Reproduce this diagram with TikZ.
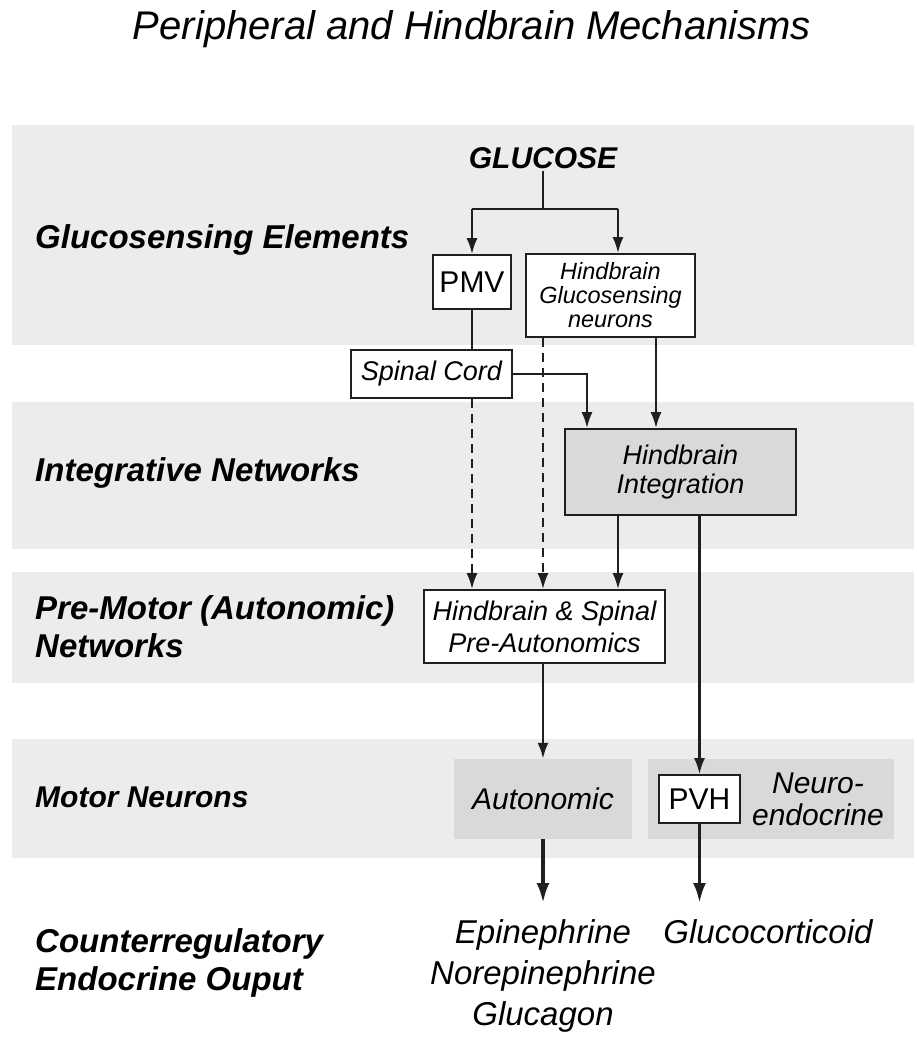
\documentclass[tikz,border=0pt]{standalone}
\usepackage{fontspec}
\setmainfont{Liberation Sans}
\usetikzlibrary{arrows.meta}
\definecolor{bandgray}{RGB}{236,236,236}
\definecolor{boxgray}{RGB}{217,217,217}
\newcommand\myfs[2]{\fontsize{#1pt}{#2pt}\selectfont}
\begin{document}
\begin{tikzpicture}[x=1pt,y=-1pt,
  conn/.style={line width=2.5pt, draw=black!88},
  arr/.style={conn, -{Latex[length=16pt,width=11pt]}},
  darr/.style={arr, dash pattern=on 9pt off 6pt},
  bigarr/.style={line width=3.5pt, draw=black!88, -{Latex[length=20pt,width=13pt]}},
  wbox/.style={draw=black!88, line width=1.6pt, fill=white, inner sep=0pt, align=center},
  gbox/.style={fill=boxgray, inner sep=0pt, align=center},
  lab/.style={anchor=west, inner sep=0pt, align=left, font=\myfs{33}{38}\bfseries\itshape},
  outtxt/.style={anchor=north, inner xsep=0pt, inner ysep=16pt, align=center, font=\myfs{33}{41}\itshape}]
\useasboundingbox (0,0) rectangle (917,1050);
% bands
\fill[bandgray] (12,125) rectangle (914,345);
\fill[bandgray] (12,402) rectangle (914,549);
\fill[bandgray] (12,572) rectangle (914,683);
\fill[bandgray] (12,739) rectangle (914,858);
% title
\node[font=\myfs{40}{44}\itshape, inner sep=0pt] (title) at (472,29) {Peripheral and Hindbrain Mechanisms};
% left labels
\node[lab] (l1) at (35,240) {Glucosensing Elements};
\node[lab] (l2) at (35,473) {Integrative Networks};
\node[lab] (l3) at (35,627) {Pre-Motor (Autonomic)\\Networks};
\node[lab, font=\myfs{30}{34}\bfseries\itshape] (l4) at (35,797) {Motor Neurons};
\node[lab] (l5) at (35,963) {Counterregulatory\\Endocrine Ouput};
% nodes
\node[font=\myfs{30}{32}\bfseries\itshape, inner sep=2pt] (glucose) at (543,158) {GLUCOSE};
\node[wbox, minimum width=78pt, minimum height=54pt, font=\myfs{30}{32}] (pmv) at (472,282) {PMV};
\node[wbox, minimum width=169pt, minimum height=83pt, font=\myfs{23.5}{24}\itshape] (hgs) at (610.5,295.5) {Hindbrain\\Glucosensing\\neurons};
\node[wbox, minimum width=161pt, minimum height=48pt, font=\myfs{27}{30}\itshape] (spinal) at (431.5,374) {Spinal Cord};
\node[wbox, fill=boxgray, minimum width=231pt, minimum height=86pt, font=\myfs{27}{28.5}\itshape] (hint) at (680.5,472) {Hindbrain\\Integration};
\node[wbox, minimum width=241pt, minimum height=73pt, font=\myfs{27}{32}\itshape] (preaut) at (544.5,626.5) {Hindbrain \& Spinal\\Pre-Autonomics};
\node[gbox, minimum width=178pt, minimum height=80pt, font=\myfs{30}{32}\itshape] (aut) at (543,799) {Autonomic};
\node[gbox, minimum width=246pt, minimum height=80pt] (ne) at (771,799) {};
\node[wbox, minimum width=81pt, minimum height=48pt, font=\myfs{30}{32}] (pvh) at (699.5,799) {PVH};
\node[inner sep=0pt, align=center, font=\myfs{30}{32}\itshape] (netxt) at (818,799) {Neuro-\\endocrine};
\node[outtxt] (epi) at (543,903) {Epinephrine\\Norepinephrine\\Glucagon};
\node[outtxt] (gc) at (768,903) {Glucocorticoid};
% connectors
\coordinate (j) at (543,209);
\coordinate (jr) at (618,209);
\coordinate (k1) at (587,374);
\coordinate (k2) at (656,337);
\draw[conn] (glucose.south) -- (j);
\draw[conn] (pmv.north |- j) -- (jr);
\draw[arr] (pmv.north |- j) -- (pmv.north);
\draw[arr] (jr) -- (jr |- hgs.north);
\draw[conn] (pmv.south) -- (pmv.south |- spinal.north);
\draw[darr] (pmv.south |- spinal.south) -- (pmv.south |- preaut.north);
\draw[darr] (j |- hgs.south) -- (j |- preaut.north);
\draw[arr] (spinal.east) -| (k1 |- hint.north);
\draw[arr] (k2) -- (k2 |- hint.north);
\draw[arr] (jr |- hint.south) -- (jr |- preaut.north);
\draw[arr] (pvh.north |- hint.south) -- (pvh.north);
\draw[arr] (aut.north |- preaut.south) -- (aut.north);
\draw[bigarr] (aut.south) -- (epi.north);
\draw[bigarr] (pvh.south) -- (pvh.south |- gc.north);
\end{tikzpicture}
\end{document}
